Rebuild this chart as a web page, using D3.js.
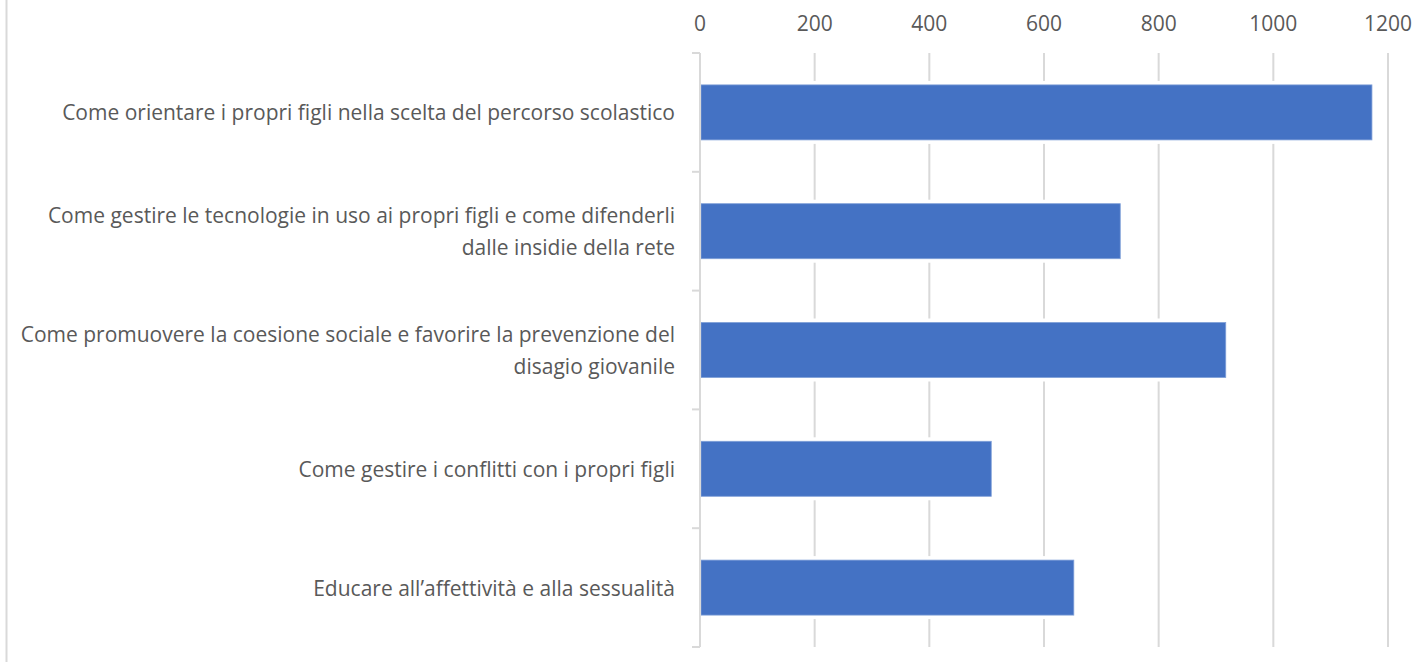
<!DOCTYPE html>
<html>
<head>
<meta charset="utf-8">
<script src="https://cdnjs.cloudflare.com/ajax/libs/d3/7.8.5/d3.min.js"></script>
<style>
  body { margin: 0; background: #fff; }
  svg { display: block; }
  text { font-family: "Open Sans", "Noto Sans", sans-serif; fill: #595959; }
</style>
</head>
<body>
<div id="chart"></div>
<script>
// Data
var categories = [
  ["Come orientare i propri figli nella scelta del percorso scolastico"],
  ["Come gestire le tecnologie in uso ai propri figli e come difenderli", "dalle insidie della rete"],
  ["Come promuovere la coesione sociale e favorire la prevenzione del", "disagio giovanile"],
  ["Come gestire i conflitti con i propri figli"],
  ["Educare all\u2019affettività e alla sessualità"]
];
var values = [1172, 733, 917, 508, 652];
var tickValues = [0, 200, 400, 600, 800, 1000, 1200];

var W = 1416, H = 662;
var margin = {top: 53, right: 28, bottom: 15, left: 700};
var width = W - margin.left - margin.right,
    height = H - margin.top - margin.bottom;

var svg = d3.select("#chart").append("svg")
  .attr("width", W)
  .attr("height", H);

// outer frame line on the left
svg.append("line")
  .attr("x1", 6.5).attr("x2", 6.5)
  .attr("y1", 0).attr("y2", H)
  .style("stroke", "#d9d9d9")
  .style("stroke-width", 2);

var g = svg.append("g")
  .attr("transform", "translate(" + margin.left + "," + margin.top + ")");

var xScale = d3.scaleLinear()
  .domain([0, 1200])
  .range([0, width]);

var idx = d3.range(categories.length);
var yScale = d3.scaleBand()
  .domain(idx)
  .range([0, height])
  .paddingInner(0.537)
  .paddingOuter(0.2685);

// gridlines
g.selectAll("line.grid")
  .data(tickValues.slice(1))
  .enter()
  .append("line")
  .attr("class", "grid")
  .attr("x1", function(d) { return xScale(d); })
  .attr("x2", function(d) { return xScale(d); })
  .attr("y1", 0)
  .attr("y2", height)
  .style("stroke", "#d9d9d9")
  .style("stroke-width", 2);

// top axis labels
g.selectAll("text.tick")
  .data(tickValues)
  .enter()
  .append("text")
  .attr("class", "tick")
  .attr("x", function(d) { return xScale(d); })
  .attr("y", -30)
  .attr("text-anchor", "middle")
  .attr("dominant-baseline", "central")
  .style("font-size", "21px")
  .text(function(d) { return d; });

// white halo behind bars (breaks the gridlines)
g.selectAll("rect.halo")
  .data(values)
  .enter()
  .append("rect")
  .attr("class", "halo")
  .attr("x", 1)
  .attr("y", function(d, i) { return yScale(i) - 4; })
  .attr("width", function(d) { return xScale(d); })
  .attr("height", yScale.bandwidth() + 8)
  .style("fill", "#fff");

// bars
g.selectAll("rect.bar")
  .data(values)
  .enter()
  .append("rect")
  .attr("class", "bar")
  .attr("x", 1)
  .attr("y", function(d, i) { return yScale(i); })
  .attr("width", function(d) { return xScale(d) - 1; })
  .attr("height", yScale.bandwidth())
  .style("fill", "#4472c4")
  .style("stroke", "#7f9fd8")
  .style("stroke-width", 0.8);

// category axis line and ticks
var step = height / categories.length;
g.append("line")
  .attr("x1", 0).attr("x2", 0)
  .attr("y1", 0).attr("y2", height)
  .style("stroke", "#d9d9d9")
  .style("stroke-width", 2);

g.selectAll("line.ytick")
  .data(d3.range(categories.length + 1))
  .enter()
  .append("line")
  .attr("class", "ytick")
  .attr("x1", -8).attr("x2", 0)
  .attr("y1", function(d) { return d * step; })
  .attr("y2", function(d) { return d * step; })
  .style("stroke", "#d9d9d9")
  .style("stroke-width", 2);

// category labels
var labels = g.selectAll("text.cat")
  .data(categories)
  .enter()
  .append("text")
  .attr("class", "cat")
  .attr("text-anchor", "end")
  .style("font-size", "21px")
  .attr("transform", function(d, i) {
    return "translate(-25," + (yScale(i) + yScale.bandwidth() / 2) + ")";
  });

labels.selectAll("tspan")
  .data(function(d) { return d; })
  .enter()
  .append("tspan")
  .attr("x", 0)
  .attr("y", function(d, j, nodes) {
    return (j - (nodes.length - 1) / 2) * 32;
  })
  .attr("dominant-baseline", "central")
  .text(function(d) { return d; });
</script>
</body>
</html>
